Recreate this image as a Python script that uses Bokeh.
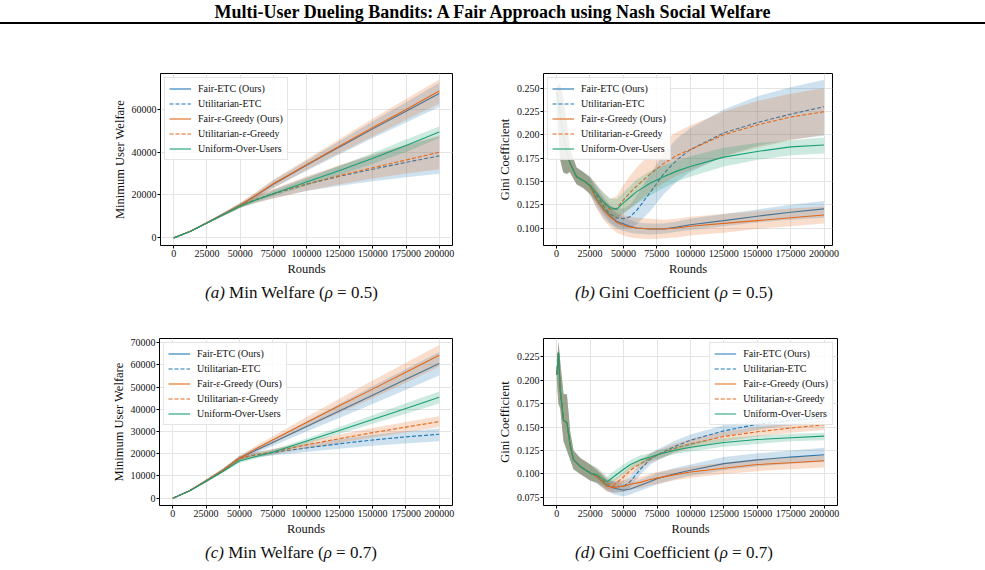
from bokeh.plotting import figure
from bokeh.layouts import column, row
from bokeh.models import (Div, FixedTicker, Legend, LegendItem,
                          NumeralTickFormatter, PrintfTickFormatter, Range1d)
from bokeh.embed import file_html
from bokeh.resources import INLINE

SERIF = "Liberation Serif"
BLUE = "#1f77b4"
ORANGE = "#e3681b"
GREEN = "#199e74"

LABELS = ["Fair-ETC (Ours)", "Utilitarian-ETC", "Fair-\u03b5-Greedy (Ours)",
          "Utilitarian-\u03b5-Greedy", "Uniform-Over-Users"]
X_TICKS = [0, 25000, 50000, 75000, 100000, 125000, 150000, 175000, 200000]

# ---------------- Min welfare, rho = 0.5 ----------------
ROUNDS_W = [0, 12500, 25000, 37500, 50000, 62500, 75000, 100000, 125000, 150000, 175000, 200000]

a_fair_etc = [0, 3100, 7000, 11000, 15200, 20000, 25000, 33800, 42400, 50800, 59000, 67300]
a_fair_etc_lo = [0, 2900, 6600, 10300, 14200, 18700, 23200, 31300, 39000, 46500, 53800, 61000]
a_fair_etc_hi = [0, 3300, 7400, 11700, 16200, 21300, 26700, 36000, 45200, 54300, 63200, 72300]
a_util_etc = [0, 3100, 7000, 11000, 15000, 18000, 20500, 25000, 28700, 32000, 35200, 38200]
a_util_etc_lo = [0, 2900, 6600, 10300, 14000, 16500, 18500, 21800, 24300, 26400, 28200, 29900]
a_util_etc_hi = [0, 3300, 7400, 11700, 16000, 19600, 22600, 28300, 33600, 38500, 43000, 47300]
a_fair_eps = [0, 3100, 7000, 11000, 15200, 20100, 25200, 34100, 42800, 51400, 59800, 68400]
a_fair_eps_lo = [0, 2900, 6600, 10300, 14200, 18600, 23300, 31600, 39500, 47300, 55000, 62500]
a_fair_eps_hi = [0, 3300, 7400, 11800, 16300, 21600, 27100, 36600, 46100, 55600, 64700, 73800]
a_util_eps = [0, 3100, 7000, 11000, 15000, 18000, 20500, 25100, 29000, 32700, 36300, 39900]
a_util_eps_lo = [0, 2900, 6600, 10300, 13900, 16400, 18300, 22000, 25000, 27700, 30000, 32000]
a_util_eps_hi = [0, 3300, 7400, 11700, 16100, 19700, 22800, 28600, 34000, 39000, 43500, 47800]
a_uniform = [0, 3000, 6900, 10900, 14700, 17800, 20600, 26000, 31400, 37100, 43000, 49300]
a_uniform_lo = [0, 2900, 6600, 10300, 13900, 16800, 19400, 24300, 29300, 34500, 40000, 46500]
a_uniform_hi = [0, 3200, 7200, 11400, 15500, 18800, 21900, 27700, 33600, 39600, 45800, 51900]

# ---------------- Min welfare, rho = 0.7 ----------------
c_fair_etc = [0, 3300, 7800, 12500, 18000, 21600, 25100, 32200, 39300, 46400, 53500, 60600]
c_fair_etc_lo = [0, 3000, 7200, 11700, 17000, 20300, 23500, 29900, 36100, 42400, 48800, 55200]
c_fair_etc_hi = [0, 3600, 8400, 13300, 19000, 22900, 26700, 34500, 42500, 50400, 58200, 65800]
c_util_etc = [0, 3300, 7800, 12500, 18000, 19600, 20600, 22600, 24500, 26200, 27600, 28800]
c_util_etc_lo = [0, 3000, 7200, 11700, 17000, 18400, 19200, 20800, 22300, 23600, 24600, 25600]
c_util_etc_hi = [0, 3600, 8400, 13300, 19000, 20800, 22000, 24400, 26600, 28600, 30100, 31400]
c_fair_eps = [0, 3300, 7800, 12500, 18000, 22300, 26200, 34000, 41600, 49100, 56700, 64400]
c_fair_eps_lo = [0, 3000, 7200, 11700, 17000, 21000, 24500, 31600, 38400, 45000, 52000, 59300]
c_fair_eps_hi = [0, 3600, 8400, 13300, 19000, 23600, 27900, 36400, 44800, 53000, 61000, 69000]
c_util_eps = [0, 3300, 7800, 12500, 17800, 19600, 20800, 24000, 26800, 29500, 32000, 34500]
c_util_eps_lo = [0, 3000, 7200, 11700, 16900, 18500, 19500, 22400, 24900, 27300, 29700, 32100]
c_util_eps_hi = [0, 3600, 8400, 13300, 18700, 20700, 22100, 25600, 28700, 31600, 34300, 36900]
c_uniform = [0, 3200, 7600, 12000, 16700, 18800, 20700, 25600, 30500, 35400, 40400, 45400]
c_uniform_lo = [0, 3000, 7200, 11400, 15800, 17900, 19700, 24400, 28900, 33500, 38000, 42600]
c_uniform_hi = [0, 3400, 8000, 12600, 17600, 19700, 21700, 26800, 32100, 37300, 42700, 48000]

# ---------------- Gini coefficient, rho = 0.5 ----------------
ROUNDS_B = [0, 2500, 5000, 7500, 10000, 15000, 20000, 25000, 30000, 35000, 40000, 45000,
            50000, 55000, 60000, 70000, 80000, 90000, 100000, 125000, 150000, 175000, 200000]
b_start = [0.245, 0.225, 0.200, 0.183, 0.170, 0.155, 0.151]
b_start_lo = [0.240, 0.175, 0.160, 0.158, 0.160, 0.147, 0.143]
b_start_hi = [0.250, 0.255, 0.240, 0.215, 0.185, 0.165, 0.160]

b_fair_etc = b_start + [0.145, 0.131, 0.121, 0.113, 0.107, 0.1045, 0.102, 0.100, 0.099, 0.099, 0.101, 0.1035, 0.108, 0.1127, 0.117, 0.1205]
b_fair_etc_lo = b_start_lo + [0.136, 0.122, 0.111, 0.104, 0.099, 0.097, 0.095, 0.094, 0.093, 0.094, 0.096, 0.098, 0.102, 0.106, 0.109, 0.111]
b_fair_etc_hi = b_start_hi + [0.154, 0.140, 0.131, 0.122, 0.115, 0.112, 0.109, 0.106, 0.105, 0.105, 0.107, 0.110, 0.115, 0.120, 0.125, 0.129]
b_util_etc = b_start + [0.146, 0.135, 0.124, 0.115, 0.111, 0.110, 0.112, 0.119, 0.138, 0.158, 0.173, 0.184, 0.202, 0.213, 0.222, 0.230]
b_util_etc_lo = b_start_lo + [0.137, 0.126, 0.115, 0.106, 0.101, 0.099, 0.100, 0.104, 0.118, 0.136, 0.150, 0.160, 0.177, 0.188, 0.195, 0.199]
b_util_etc_hi = b_start_hi + [0.155, 0.145, 0.134, 0.125, 0.121, 0.121, 0.125, 0.135, 0.158, 0.180, 0.196, 0.207, 0.227, 0.241, 0.251, 0.259]
b_fair_eps = b_start + [0.145, 0.131, 0.120, 0.112, 0.106, 0.103, 0.101, 0.100, 0.099, 0.099, 0.100, 0.102, 0.105, 0.108, 0.111, 0.114]
b_fair_eps_lo = b_start_lo + [0.136, 0.121, 0.109, 0.101, 0.095, 0.092, 0.090, 0.089, 0.088, 0.089, 0.090, 0.092, 0.095, 0.099, 0.102, 0.105]
b_fair_eps_hi = b_start_hi + [0.154, 0.141, 0.131, 0.123, 0.117, 0.114, 0.112, 0.111, 0.110, 0.109, 0.110, 0.112, 0.115, 0.118, 0.121, 0.123]
b_util_eps = b_start + [0.146, 0.137, 0.127, 0.120, 0.121, 0.130, 0.138, 0.145, 0.158, 0.169, 0.178, 0.184, 0.200, 0.2105, 0.219, 0.2246]
b_util_eps_lo = b_start_lo + [0.137, 0.127, 0.117, 0.110, 0.109, 0.115, 0.121, 0.127, 0.138, 0.148, 0.156, 0.162, 0.176, 0.186, 0.194, 0.200]
b_util_eps_hi = b_start_hi + [0.155, 0.147, 0.138, 0.131, 0.134, 0.146, 0.156, 0.165, 0.180, 0.193, 0.203, 0.210, 0.225, 0.236, 0.244, 0.250]
b_uniform = b_start + [0.146, 0.137, 0.128, 0.122, 0.120, 0.127, 0.133, 0.139, 0.148, 0.155, 0.161, 0.166, 0.176, 0.182, 0.187, 0.189]
b_uniform_lo = b_start_lo + [0.137, 0.128, 0.119, 0.113, 0.110, 0.116, 0.121, 0.126, 0.135, 0.143, 0.150, 0.155, 0.166, 0.173, 0.178, 0.180]
b_uniform_hi = b_start_hi + [0.155, 0.146, 0.138, 0.132, 0.131, 0.138, 0.145, 0.152, 0.161, 0.167, 0.172, 0.177, 0.186, 0.191, 0.194, 0.197]

# ---------------- Gini coefficient, rho = 0.7 ----------------
ROUNDS_D = [0, 1200, 2500, 5000, 7500, 10000, 12500, 17500, 25000, 30000, 37500, 42500,
            50000, 55000, 62500, 70000, 75000, 87500, 100000, 125000, 150000, 175000, 200000]
d_start = [0.206, 0.230, 0.190, 0.157, 0.155, 0.130, 0.115, 0.108, 0.101]
d_start_lo = [0.200, 0.175, 0.170, 0.135, 0.125, 0.115, 0.105, 0.100, 0.093]
d_start_hi = [0.212, 0.241, 0.220, 0.185, 0.185, 0.145, 0.125, 0.117, 0.110]

d_fair_etc = d_start + [0.097, 0.088, 0.085, 0.0825, 0.084, 0.088, 0.092, 0.095, 0.100, 0.104, 0.111, 0.115, 0.118, 0.1205]
d_fair_etc_lo = d_start_lo + [0.090, 0.082, 0.078, 0.076, 0.078, 0.082, 0.086, 0.089, 0.094, 0.098, 0.104, 0.108, 0.111, 0.113]
d_fair_etc_hi = d_start_hi + [0.104, 0.094, 0.092, 0.089, 0.090, 0.094, 0.098, 0.101, 0.106, 0.110, 0.118, 0.122, 0.125, 0.128]
d_util_etc = d_start + [0.097, 0.088, 0.086, 0.087, 0.092, 0.105, 0.116, 0.120, 0.129, 0.136, 0.146, 0.153, 0.157, 0.160]
d_util_etc_lo = d_start_lo + [0.090, 0.082, 0.080, 0.081, 0.086, 0.099, 0.110, 0.114, 0.123, 0.130, 0.140, 0.147, 0.152, 0.155]
d_util_etc_hi = d_start_hi + [0.104, 0.094, 0.092, 0.093, 0.098, 0.111, 0.122, 0.126, 0.135, 0.142, 0.152, 0.159, 0.162, 0.165]
d_fair_eps = d_start + [0.097, 0.087, 0.0855, 0.087, 0.089, 0.091, 0.094, 0.0955, 0.099, 0.102, 0.106, 0.110, 0.112, 0.114]
d_fair_eps_lo = d_start_lo + [0.090, 0.081, 0.080, 0.081, 0.083, 0.085, 0.088, 0.089, 0.093, 0.096, 0.100, 0.103, 0.105, 0.107]
d_fair_eps_hi = d_start_hi + [0.104, 0.093, 0.091, 0.093, 0.095, 0.097, 0.100, 0.102, 0.105, 0.108, 0.112, 0.116, 0.118, 0.120]
d_util_eps = d_start + [0.098, 0.090, 0.088, 0.097, 0.104, 0.111, 0.117, 0.120, 0.127, 0.132, 0.140, 0.145, 0.149, 0.1525]
d_util_eps_lo = d_start_lo + [0.091, 0.084, 0.083, 0.092, 0.099, 0.106, 0.112, 0.115, 0.122, 0.127, 0.135, 0.140, 0.144, 0.147]
d_util_eps_hi = d_start_hi + [0.106, 0.096, 0.094, 0.102, 0.109, 0.116, 0.122, 0.125, 0.132, 0.137, 0.145, 0.150, 0.154, 0.157]
d_uniform = d_start + [0.099, 0.0915, 0.097, 0.105, 0.110, 0.115, 0.118, 0.1205, 0.125, 0.1285, 0.1335, 0.1367, 0.1387, 0.1404]
d_uniform_lo = d_start_lo + [0.091, 0.086, 0.091, 0.100, 0.105, 0.110, 0.114, 0.116, 0.121, 0.124, 0.129, 0.132, 0.135, 0.136]
d_uniform_hi = d_start_hi + [0.107, 0.097, 0.103, 0.110, 0.115, 0.120, 0.122, 0.125, 0.129, 0.133, 0.138, 0.141, 0.143, 0.144]

STYLES = [(BLUE, "solid"), (BLUE, "4 2"), (ORANGE, "solid"), (ORANGE, "4 2"), (GREEN, "solid")]


def panel(x, series, x_range, y_range, y_ticks, y_fmt, y_label, width, height,
          left, right, top, bottom, legend_loc):
    p = figure(width=width, height=height, output_backend="svg", toolbar_location=None,
               x_range=Range1d(*x_range), y_range=Range1d(*y_range),
               min_border_left=left, min_border_right=right,
               min_border_top=top, min_border_bottom=bottom)
    p.margin = 0
    p.background_fill_color = "white"
    p.border_fill_color = "white"
    p.outline_line_color = "black"
    p.outline_line_width = 1
    p.outline_line_alpha = 1

    items = []
    for label, (color, dash), (mean, lo, hi) in zip(LABELS, STYLES, series):
        p.varea(x=x, y1=lo, y2=hi, fill_color=color, fill_alpha=0.22)
        r = p.line(x, mean, line_color=color, line_width=1.1, line_dash=dash)
        items.append(LegendItem(label=label, renderers=[r]))

    leg = Legend(items=items, location=legend_loc, margin=4, padding=4, spacing=2,
                 label_height=13, glyph_height=13, glyph_width=22, label_standoff=7,
                 label_text_font=SERIF, label_text_font_size="10px",
                 label_text_color="#111111", border_line_color="#cccccc",
                 border_line_width=1, background_fill_alpha=0.85)
    p.add_layout(leg)

    p.xaxis.ticker = FixedTicker(ticks=X_TICKS)
    p.xaxis.formatter = NumeralTickFormatter(format="0")
    p.yaxis.ticker = FixedTicker(ticks=y_ticks)
    p.yaxis.formatter = y_fmt
    p.xaxis.axis_label = "Rounds"
    p.yaxis.axis_label = y_label

    for ax in (p.xaxis[0], p.yaxis[0]):
        ax.axis_line_color = None
        ax.major_tick_line_color = "black"
        ax.major_tick_out = 3
        ax.major_tick_in = 0
        ax.minor_tick_line_color = None
        ax.major_label_text_font = SERIF
        ax.major_label_text_font_size = "10px"
        ax.major_label_text_color = "#111111"
        ax.major_label_standoff = 1
        ax.axis_label_text_font = SERIF
        ax.axis_label_text_font_size = "12.5px"
        ax.axis_label_text_font_style = "normal"
        ax.axis_label_text_color = "#111111"
        ax.axis_label_standoff = 2

    p.grid.grid_line_color = "#e4e4e4"
    p.grid.grid_line_width = 1
    return p


welfare_fmt = NumeralTickFormatter(format="0")

fig_a = panel(ROUNDS_W,
              [(a_fair_etc, a_fair_etc_lo, a_fair_etc_hi),
               (a_util_etc, a_util_etc_lo, a_util_etc_hi),
               (a_fair_eps, a_fair_eps_lo, a_fair_eps_hi),
               (a_util_eps, a_util_eps_lo, a_util_eps_hi),
               (a_uniform, a_uniform_lo, a_uniform_hi)],
              (-10000, 210000), (-3550, 76600), [0, 20000, 40000, 60000], welfare_fmt,
              "Minimum User Welfare", 490, 238, 160, 38, 33, 31, "top_left")

fig_b = panel(ROUNDS_B,
              [(b_fair_etc, b_fair_etc_lo, b_fair_etc_hi),
               (b_util_etc, b_util_etc_lo, b_util_etc_hi),
               (b_fair_eps, b_fair_eps_lo, b_fair_eps_hi),
               (b_util_eps, b_util_eps_lo, b_util_eps_hi),
               (b_uniform, b_uniform_lo, b_uniform_hi)],
              (-9700, 206300), (0.0813, 0.2656), [0.100, 0.125, 0.150, 0.175, 0.200, 0.225, 0.250],
              PrintfTickFormatter(format="%.3f"),
              "Gini Coefficient", 495, 238, 53, 153, 33, 31, "top_left")

fig_c = panel(ROUNDS_W,
              [(c_fair_etc, c_fair_etc_lo, c_fair_etc_hi),
               (c_util_etc, c_util_etc_lo, c_util_etc_hi),
               (c_fair_eps, c_fair_eps_lo, c_fair_eps_hi),
               (c_util_eps, c_util_eps_lo, c_util_eps_hi),
               (c_uniform, c_uniform_lo, c_uniform_hi)],
              (-10000, 210000), (-3300, 71900),
              [0, 10000, 20000, 30000, 40000, 50000, 60000, 70000], welfare_fmt,
              "Minimum User Welfare", 490, 230, 159, 38, 27, 30, "top_left")

fig_d = panel(ROUNDS_D,
              [(d_fair_etc, d_fair_etc_lo, d_fair_etc_hi),
               (d_util_etc, d_util_etc_lo, d_util_etc_hi),
               (d_fair_eps, d_fair_eps_lo, d_fair_eps_hi),
               (d_util_eps, d_util_eps_lo, d_util_eps_hi),
               (d_uniform, d_uniform_lo, d_uniform_hi)],
              (-10000, 210000), (0.0663, 0.2446), [0.075, 0.100, 0.125, 0.150, 0.175, 0.200, 0.225],
              PrintfTickFormatter(format="%.3f"),
              "Gini Coefficient", 495, 230, 53, 148, 30, 30, "top_right")


def caption(tag, name, rho, width, pad):
    html = ('<div style="font-family:\'Liberation Serif\',serif;font-size:17px;color:#111;'
            'line-height:30px;white-space:nowrap;padding-left:%dpx;">'
            '<i>(%s)</i> %s (<i>\u03c1</i> = %s)</div>' % (pad, tag, name, rho))
    return Div(text=html, width=width, height=30, margin=0)


title = Div(text=('<div style="width:985px;height:24px;border-bottom:2px solid #000;'
                  'text-align:center;font-family:\'Liberation Serif\',serif;font-weight:bold;'
                  'font-size:18px;line-height:24px;color:#000;">'
                  'Multi-User Dueling Bandits: A Fair Approach using Nash Social Welfare</div>'),
            width=985, height=40, margin=0)

layout = column(
    title,
    row(fig_a, fig_b, spacing=0),
    row(caption("a", "Min Welfare", "0.5", 490, 205),
        caption("b", "Gini Coefficient", "0.5", 495, 85), spacing=0),
    row(fig_c, fig_d, spacing=0),
    row(caption("c", "Min Welfare", "0.7", 490, 205),
        caption("d", "Gini Coefficient", "0.7", 495, 85), spacing=0),
    spacing=0,
)

open("out.html", "w").write(file_html(layout, INLINE))
